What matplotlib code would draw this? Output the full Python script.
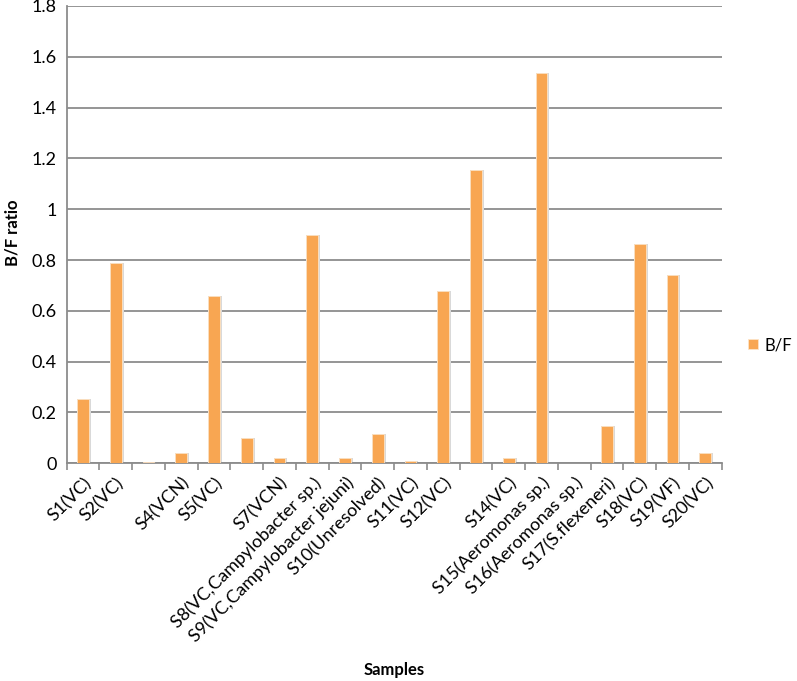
import matplotlib
matplotlib.use("Agg")
import matplotlib.pyplot as plt
import numpy as np

categories = ["S1(VC)", "S2(VC)", "", "S4(VCN)", "S5(VC)", "", "S7(VCN)",
              "S8(VC,Campylobacter sp.)", "S9(VC,Campylobacter jejuni)",
              "S10(Unresolved)", "S11(VC)", "S12(VC)", "", "S14(VC)",
              "S15(Aeromonas sp.)", "S16(Aeromonas sp.)", "S17(S.flexeneri)",
              "S18(VC)", "S19(VF)", "S20(VC)"]
bf_values = [0.253, 0.787, 0.004, 0.039, 0.657, 0.100, 0.021, 0.900, 0.020,
             0.114, 0.010, 0.680, 1.155, 0.020, 1.537, 0.0, 0.147, 0.862,
             0.743, 0.039]
y_ticks = [0, 0.2, 0.4, 0.6, 0.8, 1.0, 1.2, 1.4, 1.6, 1.8]
y_tick_labels = ["0", "0.2", "0.4", "0.6", "0.8", "1", "1.2", "1.4", "1.6", "1.8"]
series_name = "B/F"

plt.rcParams['font.family'] = ['Lato', 'DejaVu Sans']

W, H = 797, 681
fig = plt.figure(figsize=(W / 100, H / 100), dpi=100)
ax = fig.add_axes([66.7 / W, 1 - 463.3 / H, (721.7 - 66.7) / W, (463.3 - 6) / H])

x = np.arange(len(categories))
bar_color = "#F8A652"
# soft shadow
ax.bar(x + 0.03, bf_values, width=0.42, color="#d9d9d9", zorder=2, linewidth=0)
ax.bar(x, bf_values, width=0.36, color=bar_color, edgecolor="#fde3c6",
       linewidth=0.6, zorder=3, label=series_name)

fs = 13
ax.set_xlim(-0.5, len(categories) - 0.5)
ax.set_ylim(0, 1.8)
ax.set_yticks(y_ticks)
ax.set_yticklabels(y_tick_labels, fontsize=fs)
ax.yaxis.grid(True, color="#8c8c8c", linewidth=1.3, zorder=1)
ax.set_axisbelow(True)
ax.tick_params(axis='y', length=0, pad=7)

ax.set_xticks(x)
ax.set_xticklabels(categories, rotation=45, ha='right', va='top',
                   rotation_mode='anchor', fontsize=fs)
ax.tick_params(axis='x', which='major', length=0, pad=8)
ax.set_xticks(np.arange(-0.5, len(categories)), minor=True)
ax.tick_params(axis='x', which='minor', length=5, color="#8c8c8c", width=1.2)

for s in ["top", "right"]:
    ax.spines[s].set_visible(False)
for s in ["left", "bottom"]:
    ax.spines[s].set_color("#8c8c8c")
    ax.spines[s].set_linewidth(1.3)

fig.text(12 / W, 1 - 233 / H, "B/F ratio", rotation=90, fontsize=12,
         fontweight='bold', ha='center', va='center')
fig.text(394 / W, 1 - 670 / H, "Samples", fontsize=12, fontweight='bold',
         ha='center', va='center')

leg = fig.legend(loc='center left', bbox_to_anchor=(748 / W, 1 - 345 / H),
                 frameon=False, fontsize=12, handlelength=0.6,
                 handleheight=0.6, handletextpad=0.4, borderaxespad=0,
                 borderpad=0)

fig.savefig("out.png", dpi=100)
